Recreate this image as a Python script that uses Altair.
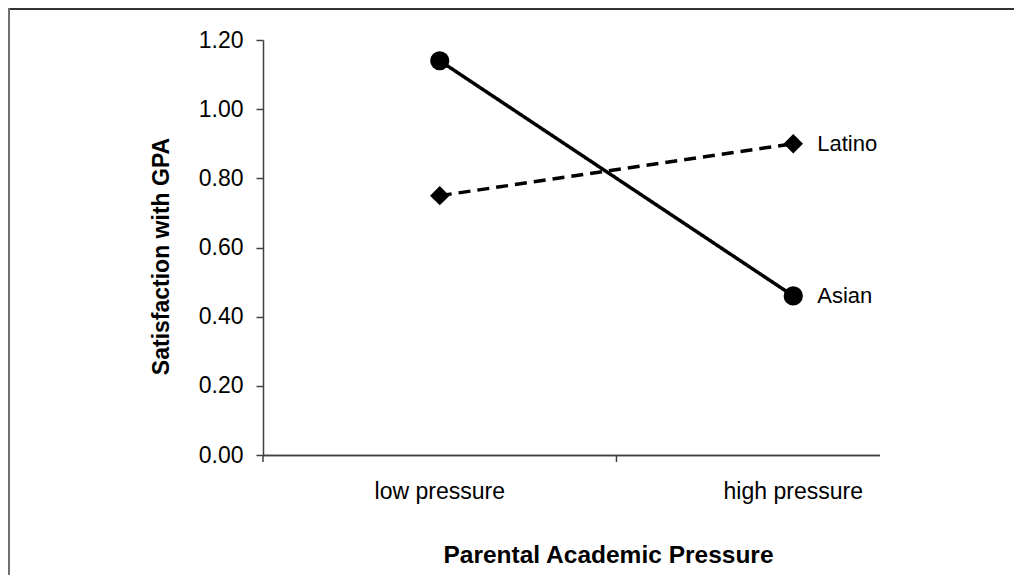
import altair as alt
import pandas as pd

pressure = ["low pressure", "high pressure"]
groups = ["Asian", "Latino"]
asian = [1.14, 0.46]
latino = [0.75, 0.90]
y_ticks = [0.0, 0.2, 0.4, 0.6, 0.8, 1.0, 1.2]

rows = []
for g, vals in zip(groups, [asian, latino]):
    for p, v in zip(pressure, vals):
        rows.append({"group": g, "pressure": p, "value": v})
df = pd.DataFrame(rows)
cats = pd.DataFrame({"pressure": pressure})

FONT = "Liberation Sans"
AXC = "#404040"

xscale = alt.Scale(type="band", domain=pressure, paddingInner=0, paddingOuter=0)
yscale = alt.Scale(domain=[0, 1.2], nice=False, zero=True)

x_enc = alt.X(
    "pressure:N", scale=xscale, sort=pressure,
    axis=alt.Axis(
        title="Parental Academic Pressure", ticks=False, domain=False, labelAngle=0,
        labelAlign="center", labelBaseline="top",
        labelFont=FONT, labelFontSize=23, labelColor="black", labelPadding=25,
        titleFont=FONT, titleFontSize=24.5, titleFontWeight="bold", titleColor="black",
        titleX=345, titleY=107, titleBaseline="alphabetic", titleAlign="center",
        grid=False,
    ),
)
y_enc = alt.Y(
    "value:Q", scale=yscale,
    axis=alt.Axis(
        title="Satisfaction with GPA", values=y_ticks, format=".2f", grid=False,
        domainColor=AXC, domainWidth=1.5, tickColor=AXC, tickWidth=1.5, tickSize=7,
        labelFont=FONT, labelFontSize=23, labelColor="black", labelPadding=13,
        titleFont=FONT, titleFontSize=23, titleFontWeight="bold", titleColor="black",
        titleX=-95, titleY=216, titleBaseline="alphabetic", titleAlign="center", titleAngle=-90,
    ),
)

base = alt.Chart(df)

lines = base.mark_line(color="black", strokeWidth=3.5).encode(
    x=x_enc, y=y_enc,
    detail="group:N",
    strokeDash=alt.StrokeDash("group:N", scale=alt.Scale(domain=groups, range=[[1, 0], [12, 7]]), legend=None),
)

points = base.mark_point(filled=True, color="black", opacity=1).encode(
    x=alt.X("pressure:N", scale=xscale, sort=pressure),
    y=alt.Y("value:Q", scale=yscale),
    shape=alt.Shape("group:N", scale=alt.Scale(domain=groups, range=["circle", "diamond"]), legend=None),
    size=alt.Size("group:N", scale=alt.Scale(domain=groups, range=[370, 380]), legend=None),
)

labels = base.transform_filter(alt.datum.pressure == pressure[1]).mark_text(
    align="left", baseline="middle", dx=24, font=FONT, fontSize=22, color="black"
).encode(
    x=alt.X("pressure:N", scale=xscale, sort=pressure),
    y=alt.Y("value:Q", scale=yscale),
    text="group:N",
)

xticks = alt.Chart(cats).mark_rule(color=AXC, strokeWidth=1.5).encode(
    x=alt.X("pressure:N", scale=xscale, sort=pressure, bandPosition=0),
    y=alt.value(415), y2=alt.value(422),
)

xdomain = alt.Chart(cats).mark_rule(color=AXC, strokeWidth=1.5).encode(
    x=alt.value(0), x2=alt.value(617), y=alt.value(415.5)
)

border_top = alt.Chart(cats).mark_rule(color="#333333", strokeWidth=2).encode(
    x=alt.value(-255), x2=alt.value(751), y=alt.value(-31)
)
border_left = alt.Chart(cats).mark_rule(color="#707070", strokeWidth=2).encode(
    x=alt.value(-254), y=alt.value(-32), y2=alt.value(537)
)

chart = alt.layer(
    border_top, border_left, xdomain, xticks, lines, points, labels
).properties(
    width=707, height=415,
    autosize=alt.AutoSizeParams(type="none"),
    padding={"left": 255, "top": 32, "right": 44, "bottom": 120},
    background="white",
).configure_view(stroke=None)

chart.save("out.html", embed_options={"renderer": "svg", "actions": False})
